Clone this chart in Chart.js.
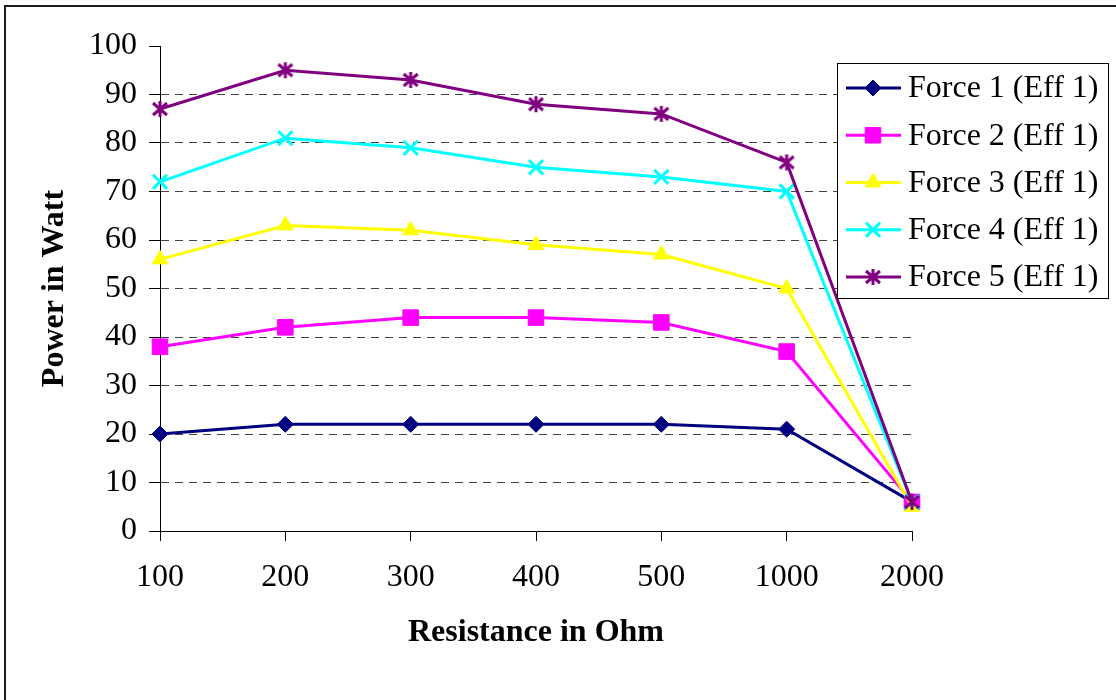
<!DOCTYPE html>
<html>
<head>
<meta charset="utf-8">
<title>Power vs Resistance</title>
<script src="https://cdn.jsdelivr.net/npm/chart.js@4/dist/chart.umd.min.js"></script>
<style>
  html, body { margin: 0; padding: 0; background: #fff; }
  #wrap { width: 1116px; height: 700px; }
</style>
</head>
<body>
<div id="wrap"><canvas id="powerChart" width="1116" height="700"></canvas></div>
<script>
// chart data
const resistanceLabels = ['100', '200', '300', '400', '500', '1000', '2000'];
const yTicks = [0, 10, 20, 30, 40, 50, 60, 70, 80, 90, 100];
const seriesNames = ['Force 1 (Eff 1)', 'Force 2 (Eff 1)', 'Force 3 (Eff 1)', 'Force 4 (Eff 1)', 'Force 5 (Eff 1)'];
const force1 = [20, 22, 22, 22, 22, 21, 6];
const force2 = [38, 42, 44, 44, 43, 37, 6];
const force3 = [56, 63, 62, 59, 57, 50, 5];
const force4 = [72, 81, 79, 75, 73, 70, 6];
const force5 = [87, 95, 93, 88, 86, 76, 6];

const FONT = '"Liberation Serif", "Times New Roman", serif';

// Excel style asterisk marker (X plus a vertical bar)
function makeAsterisk(color) {
    const c = document.createElement('canvas');
    c.width = 20; c.height = 20;
    const g = c.getContext('2d');
    g.strokeStyle = color;
    g.lineWidth = 3;
    g.beginPath();
    g.moveTo(10, 2); g.lineTo(10, 18);
    g.moveTo(3, 4); g.lineTo(17, 16);
    g.moveTo(17, 4); g.lineTo(3, 16);
    g.stroke();
    return c;
}

function makeSeries(label, data, color, style, radius, order) {
    return {
        label: label,
        data: data,
        borderColor: color,
        backgroundColor: color,
        borderWidth: 3,
        tension: 0,
        pointStyle: style,
        pointRadius: radius,
        pointHoverRadius: radius,
        pointBorderWidth: (style === 'crossRot') ? 3 : 1,
        pointBackgroundColor: color,
        pointBorderColor: color,
        order: order
    };
}

// Frame around the whole chart area
const outerFrame = {
    id: 'outerFrame',
    beforeDraw(chart) {
        const ctx = chart.ctx;
        ctx.save();
        ctx.fillStyle = '#fff';
        ctx.fillRect(0, 0, chart.width, chart.height);
        ctx.strokeStyle = '#1a1a1a';
        ctx.lineWidth = 2;
        ctx.beginPath();
        ctx.moveTo(5, chart.height + 2);
        ctx.lineTo(5, 6);
        ctx.lineTo(chart.width + 2, 6);
        ctx.stroke();
        ctx.restore();
    }
};

// Legend box that sits over the top right of the plot
const floatingLegend = {
    id: 'floatingLegend',
    afterDraw(chart) {
        const ctx = chart.ctx;
        ctx.save();
        ctx.fillStyle = '#fff';
        ctx.fillRect(837, 63, 271, 235);
        ctx.strokeStyle = '#000';
        ctx.lineWidth = 1;
        ctx.strokeRect(837.5, 63.5, 271, 235);

        ctx.font = '32px ' + FONT;
        ctx.textBaseline = 'middle';
        ctx.textAlign = 'left';

        chart.data.datasets.forEach(function(ds, i) {
            const y = 88 + i * 47.25;
            ctx.strokeStyle = ds.borderColor;
            ctx.lineWidth = 3;
            ctx.beginPath();
            ctx.moveTo(846, y);
            ctx.lineTo(901, y);
            ctx.stroke();

            ctx.fillStyle = ds.pointBackgroundColor;
            ctx.strokeStyle = ds.pointBorderColor;
            ctx.lineWidth = ds.pointBorderWidth;
            Chart.helpers.drawPoint(ctx, {
                pointStyle: ds.pointStyle,
                radius: ds.pointRadius,
                rotation: 0,
                borderWidth: ds.pointBorderWidth
            }, 873, y);

            ctx.fillStyle = '#000';
            ctx.fillText(ds.label, 908, y + 1);
        });
        ctx.restore();
    }
};

document.addEventListener('DOMContentLoaded', function() {
    const ctx = document.getElementById('powerChart');

    new Chart(ctx, {
        type: 'line',
        data: {
            labels: resistanceLabels,
            datasets: [
                makeSeries(seriesNames[0], force1, '#000080', 'rectRot', 8, 5),
                makeSeries(seriesNames[1], force2, '#FF00FF', 'rect', 11, 4),
                makeSeries(seriesNames[2], force3, '#FFFF00', 'triangle', 9, 3),
                makeSeries(seriesNames[3], force4, '#00FFFF', 'crossRot', 10, 2),
                makeSeries(seriesNames[4], force5, '#800080', makeAsterisk('#800080'), 10, 1)
            ]
        },
        options: {
            responsive: false,
            animation: false,
            devicePixelRatio: 1,
            layout: {
                padding: { left: 0, top: 46, right: 204, bottom: 0 }
            },
            plugins: {
                legend: { display: false },
                tooltip: { enabled: false }
            },
            scales: {
                x: {
                    type: 'category',
                    offset: false,
                    afterFit: function(scale) { scale.height = 169; },
                    grid: {
                        drawOnChartArea: false,
                        drawTicks: true,
                        tickLength: 10,
                        tickColor: '#000',
                        color: '#000'
                    },
                    border: { display: true, color: '#000', width: 1 },
                    ticks: {
                        color: '#000',
                        padding: 17,
                        maxRotation: 0,
                        autoSkip: false,
                        font: { family: FONT, size: 32 }
                    },
                    title: {
                        display: true,
                        text: 'Resistance in Ohm',
                        color: '#000',
                        font: { family: FONT, size: 32, weight: 'bold' },
                        padding: { top: 0, bottom: 48 }
                    }
                },
                y: {
                    min: 0,
                    max: 100,
                    afterFit: function(scale) { scale.width = 160; },
                    afterBuildTicks: function(scale) {
                        scale.ticks = yTicks.map(function(v) { return { value: v }; });
                    },
                    grid: {
                        drawOnChartArea: true,
                        drawTicks: true,
                        tickLength: 11,
                        tickColor: '#000',
                        lineWidth: 1,
                        color: function(c) {
                            const v = c.tick ? c.tick.value : null;
                            return (v === 0 || v === 100) ? 'rgba(0,0,0,0)' : '#444';
                        }
                    },
                    border: { display: true, color: '#000', width: 1, dash: [8, 6] },
                    ticks: {
                        color: '#000',
                        padding: 12,
                        font: { family: FONT, size: 32 }
                    },
                    title: {
                        display: true,
                        text: 'Power in Watt',
                        color: '#000',
                        font: { family: FONT, size: 32, weight: 'bold' },
                        padding: { top: 36, bottom: 0 }
                    }
                }
            }
        },
        plugins: [outerFrame, floatingLegend]
    });
});
</script>
</body>
</html>
